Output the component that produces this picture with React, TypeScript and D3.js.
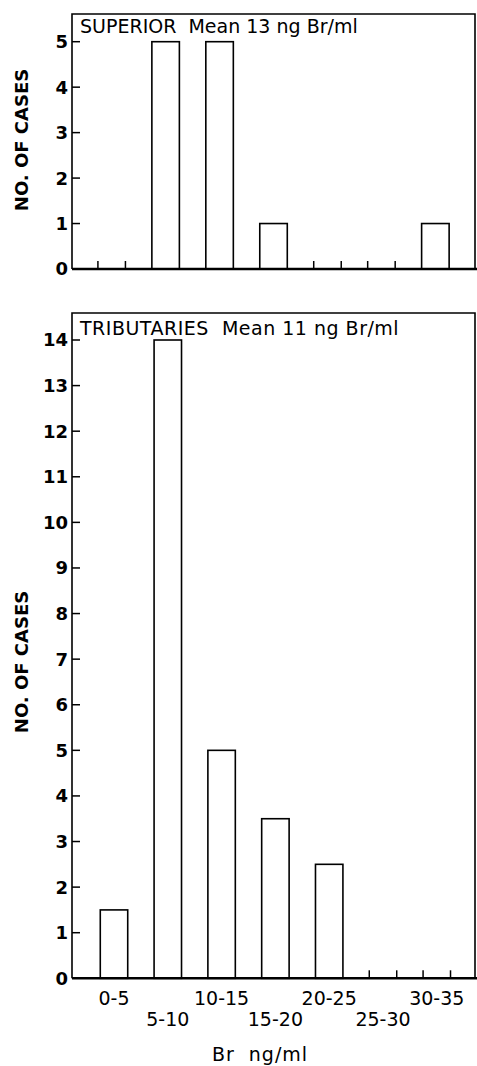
import React from "react";
import * as d3 from "d3";

const categories = ["0-5", "5-10", "10-15", "15-20", "20-25", "25-30", "30-35"];
const superiorCounts = [0, 5, 5, 1, 0, 0, 1];
const tributaryCounts = [1.5, 14, 5, 3.5, 2.5, 0, 0];
const superiorTicks = [0, 1, 2, 3, 4, 5];
const tributaryTicks = [0, 1, 2, 3, 4, 5, 6, 7, 8, 9, 10, 11, 12, 13, 14];
const superiorTitle = "SUPERIOR  Mean 13 ng Br/ml";
const tributaryTitle = "TRIBUTARIES  Mean 11 ng Br/ml";
const yTitle = "NO. OF CASES";
const xTitle = "Br  ng/ml";

const FONT = "'DejaVu Sans', sans-serif";

type PanelProps = {
  values: number[];
  ticks: number[];
  title: string;
  frameTop: number;
  y0: number;
  yMaxPx: number;
  yMax: number;
  xRange: [number, number];
  showXLabels: boolean;
  yLabelCenter: number;
  titleBaseline: number;
  titleSpacing: number;
};

function Panel(p: PanelProps) {
  const left = 72;
  const right = 475;
  const x = d3
    .scaleBand<string>()
    .domain(categories)
    .range(p.xRange)
    .paddingInner(0.49)
    .paddingOuter(0.245);
  const y = d3.scaleLinear().domain([0, p.yMax]).range([p.y0, p.yMaxPx]);
  const bw = x.bandwidth();
  return (
    <g>
      <path
        d={`M${left},${p.y0} L${left},${p.frameTop} L${right},${p.frameTop} L${right},${p.y0}`}
        fill="none"
        stroke="#000"
        strokeWidth={1.6}
      />
      <line x1={left} x2={477} y1={p.y0} y2={p.y0} stroke="#000" strokeWidth={2.6} />
      {p.ticks.map((t) => (
        <g key={t}>
          {t > 0 && (
            <line x1={left} x2={left + 8} y1={y(t)} y2={y(t)} stroke="#000" strokeWidth={1.5} />
          )}
          <text
            x={68}
            y={y(t)}
            dy="0.36em"
            textAnchor="end"
            fontFamily={FONT}
            fontSize={18}
            fontWeight="bold"
          >
            {t}
          </text>
        </g>
      ))}
      {categories.map((c, i) => {
        const v = p.values[i];
        const bx = x(c) as number;
        if (v <= 0) {
          return (
            <g key={c}>
              <line x1={bx} x2={bx} y1={p.y0} y2={p.y0 - 8} stroke="#000" strokeWidth={1.5} />
              <line x1={bx + bw} x2={bx + bw} y1={p.y0} y2={p.y0 - 8} stroke="#000" strokeWidth={1.5} />
            </g>
          );
        }
        return (
          <rect
            key={c}
            x={bx}
            y={y(v)}
            width={bw}
            height={p.y0 - y(v)}
            fill="none"
            stroke="#000"
            strokeWidth={1.6}
          />
        );
      })}
      <text
        x={80}
        y={p.titleBaseline}
        fontFamily={FONT}
        fontSize={19}
        letterSpacing={p.titleSpacing}
        style={{ whiteSpace: "pre" }}
      >
        {p.title}
      </text>
      <text
        transform={`translate(28,${p.yLabelCenter}) rotate(-90)`}
        textAnchor="middle"
        fontFamily={FONT}
        fontSize={18}
        fontWeight="bold"
        style={{ whiteSpace: "pre" }}
      >
        {yTitle}
      </text>
      {p.showXLabels &&
        categories.map((c, i) => (
          <text
            key={c}
            x={(x(c) as number) + bw / 2}
            y={i % 2 === 0 ? 1005 : 1026}
            textAnchor="middle"
            fontFamily={FONT}
            fontSize={19}
          >
            {c}
          </text>
        ))}
    </g>
  );
}

export default function App() {
  return (
    <svg
      width={477}
      height={1066}
      style={{ position: "absolute", left: 0, top: 0, background: "#fff" }}
    >
      <rect width={477} height={1066} fill="#fff" />
      <Panel
        values={superiorCounts}
        ticks={superiorTicks}
        title={superiorTitle}
        frameTop={14}
        y0={269}
        yMaxPx={41.7}
        yMax={5}
        xRange={[84.7, 462.35]}
        showXLabels={false}
        yLabelCenter={140}
        titleBaseline={33}
        titleSpacing={0}
      />
      <Panel
        values={tributaryCounts}
        ticks={tributaryTicks}
        title={tributaryTitle}
        frameTop={313}
        y0={978.3}
        yMaxPx={340}
        yMax={14}
        xRange={[87.1, 463.7]}
        showXLabels={true}
        yLabelCenter={662}
        titleBaseline={335}
        titleSpacing={0.5}
      />
      <text
        x={260}
        y={1061}
        textAnchor="middle"
        fontFamily={FONT}
        fontSize={19}
        letterSpacing={1}
        style={{ whiteSpace: "pre" }}
      >
        {xTitle}
      </text>
    </svg>
  );
}
